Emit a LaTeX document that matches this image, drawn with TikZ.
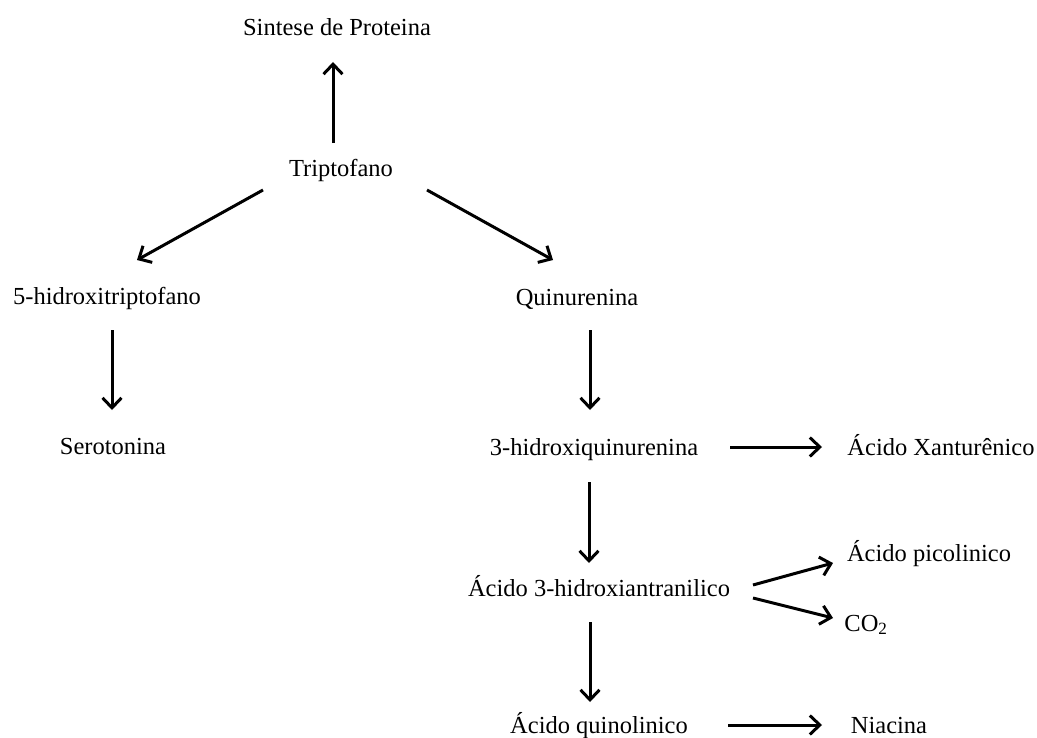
\documentclass[tikz,border=0pt]{standalone}
\usepackage{fontspec}
\setmainfont{Liberation Serif}
\usetikzlibrary{arrows.meta}

\begin{document}
\begin{tikzpicture}[>={Straight Barb[length=10bp,width=19bp]},x=1bp,y=-1bp,
  met/.style={inner sep=0pt,anchor=base,font=\fontsize{24.5bp}{28bp}\selectfont},
  seta/.style={line width=3bp,->}]
\useasboundingbox (0,0) rectangle (1037,738);
\node[met] (prot) at (337,36) {Sintese de Proteina};
\node[met] (trp) at (341,176) {Triptofano};
\node[met] (hid) at (107,304) {5-hidroxitriptofano};
\node[met] (qui) at (577,305) {Quinurenina};
\node[met] (ser) at (113,454) {Serotonina};
\node[met] (hqui) at (594,455) {3-hidroxiquinurenina};
\node[met] (xan) at (941,455) {Ácido Xanturênico};
\node[met] (haa) at (599,596) {Ácido 3-hidroxiantranilico};
\node[met] (pic) at (929,561) {Ácido picolinico};
\node[met] (co) at (866,631) {CO\textsubscript{2}};
\node[met] (quin) at (599,733) {Ácido quinolinico};
\node[met] (nia) at (889,733) {Niacina};
\draw[seta] ([shift={(-8,-33)}]trp.base) -- ([shift={(-4,26)}]prot.base);
\draw[seta] ([shift={(-78,14)}]trp.base) -- ([shift={(30,-44)}]hid.base);
\draw[seta] ([shift={(86,14)}]trp.base) -- ([shift={(-24,-45)}]qui.base);
\draw[seta] ([shift={(5,26)}]hid.base) -- ([shift={(-1,-44)}]ser.base);
\draw[seta] ([shift={(13,25)}]qui.base) -- ([shift={(-4,-45)}]hqui.base);
\draw[seta] ([shift={(136,-8)}]hqui.base) -- ([shift={(-119,-8)}]xan.base);
\draw[seta] ([shift={(-5,27)}]hqui.base) -- ([shift={(-10,-33)}]haa.base);
\draw[seta] ([shift={(154,-11)}]haa.base) -- ([shift={(-96,2)}]pic.base);
\draw[seta] ([shift={(154,2)}]haa.base) -- ([shift={(-33,-13)}]co.base);
\draw[seta] ([shift={(-9,26)}]haa.base) -- ([shift={(-9,-31)}]quin.base);
\draw[seta] ([shift={(129,-8)}]quin.base) -- ([shift={(-67,-8)}]nia.base);
\end{tikzpicture}
\end{document}
